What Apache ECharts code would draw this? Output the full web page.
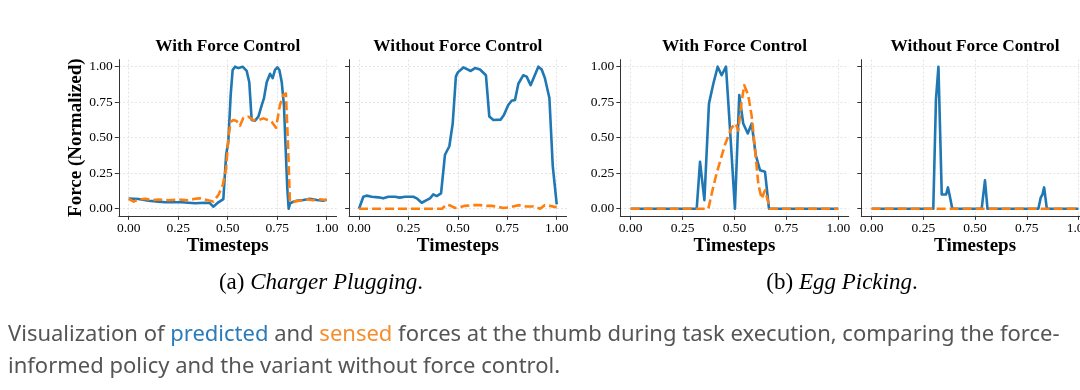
<!DOCTYPE html>
<html><head><meta charset="utf-8">
<script src="https://cdn.jsdelivr.net/npm/echarts@6/dist/echarts.min.js"></script>
<style>html,body{margin:0;padding:0;background:#fff}#c{width:1080px;height:390px}</style>
</head><body><div id="c"></div>
<script>
// ---- data (t = normalized timestep, v = normalized force) ----
var panelTitles = ['With Force Control', 'Without Force Control', 'With Force Control', 'Without Force Control'];
var tickValues = [0, 0.25, 0.5, 0.75, 1];
var subCaptions = ['Charger Plugging', 'Egg Picking'];

var chargerWithPred = [[0,0.072],[0.05,0.068],[0.1,0.056],[0.15,0.05],[0.183,0.045],[0.267,0.045],[0.3,0.042],[0.335,0.038],[0.385,0.042],[0.41,0.04],[0.427,0.014],[0.436,0.015],[0.453,0.045],[0.478,0.068],[0.492,0.378],[0.503,0.47],[0.515,0.8],[0.525,0.977],[0.537,1.0],[0.554,0.99],[0.562,0.977],[0.575,1.0],[0.596,0.97],[0.609,0.89],[0.621,0.625],[0.638,0.62],[0.655,0.648],[0.672,0.73],[0.683,0.777],[0.697,0.89],[0.714,0.95],[0.727,0.92],[0.739,0.977],[0.751,0.995],[0.761,0.977],[0.773,0.89],[0.784,0.73],[0.794,0.378],[0.801,0.143],[0.808,0.0],[0.815,0.038],[0.832,0.049],[0.848,0.056],[0.882,0.061],[0.915,0.07],[0.95,0.061],[0.983,0.056],[1.0,0.066]];
var chargerWithSensed = [[0,0.07],[0.025,0.05],[0.05,0.065],[0.084,0.07],[0.118,0.06],[0.15,0.065],[0.2,0.06],[0.25,0.065],[0.3,0.06],[0.335,0.07],[0.36,0.073],[0.394,0.061],[0.427,0.05],[0.453,0.096],[0.475,0.166],[0.492,0.284],[0.503,0.495],[0.515,0.612],[0.528,0.624],[0.545,0.617],[0.562,0.584],[0.579,0.64],[0.604,0.648],[0.629,0.624],[0.655,0.624],[0.68,0.636],[0.705,0.624],[0.722,0.612],[0.744,0.57],[0.764,0.73],[0.781,0.8],[0.794,0.812],[0.806,0.4],[0.814,0.05],[0.832,0.05],[0.865,0.056],[0.9,0.066],[0.93,0.06],[0.966,0.066],[1.0,0.06]];
var chargerWithoutPred = [[0,0.0],[0.022,0.084],[0.039,0.092],[0.064,0.084],[0.098,0.08],[0.123,0.073],[0.148,0.084],[0.182,0.084],[0.207,0.078],[0.233,0.084],[0.275,0.084],[0.292,0.073],[0.317,0.042],[0.342,0.061],[0.359,0.073],[0.376,0.101],[0.393,0.089],[0.415,0.108],[0.435,0.38],[0.457,0.44],[0.474,0.6],[0.49,0.93],[0.5,0.96],[0.528,0.995],[0.565,0.97],[0.587,0.99],[0.612,0.98],[0.642,0.94],[0.659,0.65],[0.68,0.625],[0.716,0.627],[0.733,0.66],[0.755,0.73],[0.772,0.76],[0.789,0.765],[0.806,0.88],[0.831,0.94],[0.848,0.93],[0.868,0.87],[0.907,1.0],[0.924,0.98],[0.94,0.92],[0.963,0.78],[0.98,0.3],[1.0,0.03]];
var chargerWithoutSensed = [[0,0.0],[0.1,0.0],[0.2,0.0],[0.3,0.0],[0.42,0.0],[0.443,0.03],[0.465,0.02],[0.486,0.005],[0.51,0.01],[0.536,0.02],[0.578,0.025],[0.612,0.025],[0.646,0.02],[0.67,0.02],[0.696,0.015],[0.73,0.005],[0.764,0.01],[0.806,0.025],[0.848,0.015],[0.882,0.015],[0.916,0.0],[0.94,0.025],[0.965,0.02],[1.0,0.01]];

var eggWithPred = [[0,0],[0.318,0],[0.334,0.33],[0.355,0.06],[0.377,0.74],[0.398,0.88],[0.419,1.0],[0.438,0.94],[0.459,1.0],[0.481,0.5],[0.502,0.0],[0.523,0.8],[0.542,0.6],[0.564,0.53],[0.583,0.6],[0.602,0.38],[0.623,0.27],[0.647,0.26],[0.666,0.0],[1.0,0]];
var eggWithSensed = [[0,0],[0.35,0],[0.374,0.0],[0.394,0.13],[0.414,0.25],[0.434,0.35],[0.454,0.45],[0.486,0.57],[0.506,0.6],[0.518,0.55],[0.534,0.75],[0.547,0.87],[0.566,0.8],[0.583,0.65],[0.6,0.4],[0.615,0.17],[0.631,0.07],[0.647,0.13],[0.671,0.0],[1.0,0]];
var eggWithoutPred = [[0,0],[0.298,0],[0.311,0.77],[0.323,1.0],[0.339,0.1],[0.36,0.1],[0.369,0.15],[0.379,0.08],[0.39,0.0],[0.532,0.0],[0.548,0.2],[0.56,0.0],[0.806,0.0],[0.818,0.08],[0.826,0.1],[0.834,0.15],[0.847,0.0],[1.0,0]];
var eggWithoutSensed = [[0,0],[0.25,0],[0.5,0],[0.75,0],[1.0,0]];

// ---- layout ----
var grids = [
  {left: 118.8, top: 59.6, width: 217.8, height: 156.2},
  {left: 349.1, top: 59.6, width: 217.5, height: 156.2},
  {left: 620.3, top: 59.6, width: 228.4, height: 156.2},
  {left: 861.3, top: 59.6, width: 227.5, height: 156.2}
];
var serif = '"Liberation Serif", "Times New Roman", serif';
var sans = '"Noto Sans", "Open Sans", sans-serif';
var axisColor = '#333';
var gridColor = '#dcdcdc';

var xAxes = [], yAxes = [], series = [], graphics = [];
var panelData = [[chargerWithPred, chargerWithSensed],[chargerWithoutPred, chargerWithoutSensed],[eggWithPred, eggWithSensed],[eggWithoutPred, eggWithoutSensed]];

grids.forEach(function (g, i) {
  g.outerBoundsMode = 'none';
  g.containLabel = false;
  xAxes.push({
    type: 'value', gridIndex: i, min: -0.05, max: 1.05,
    name: 'Timesteps', nameLocation: 'middle', nameGap: 19,
    nameTextStyle: {fontFamily: serif, fontWeight: 'bold', fontSize: 19, color: '#000'},
    axisLine: {show: true, onZero: false, lineStyle: {color: axisColor, width: 1}},
    axisTick: {show: true, length: 4, customValues: tickValues, lineStyle: {color: axisColor}},
    axisLabel: {customValues: tickValues, margin: 6, fontFamily: serif, fontSize: 13.5, color: '#000',
      formatter: function (v) { return (+v).toFixed(2); }},
    splitLine: {show: true, lineStyle: {color: gridColor, width: 0.8, type: [2, 2]}}
  });
  yAxes.push({
    type: 'value', gridIndex: i, min: -0.05, max: 1.05,
    name: i === 0 ? 'Force (Normalized)' : '', nameLocation: 'middle', nameGap: 33, nameRotate: 90,
    nameTextStyle: {fontFamily: serif, fontWeight: 'bold', fontSize: 19, color: '#000'},
    axisLine: {show: true, onZero: false, lineStyle: {color: axisColor, width: 1}},
    axisTick: {show: true, length: 4, customValues: tickValues, lineStyle: {color: axisColor}},
    axisLabel: {show: i === 0 || i === 2, customValues: tickValues, margin: 6, fontFamily: serif, fontSize: 13.5, color: '#000',
      formatter: function (v) { return (+v).toFixed(2); }},
    splitLine: {show: true, lineStyle: {color: gridColor, width: 0.8, type: [2, 2]}}
  });
  series.push({
    type: 'line', xAxisIndex: i, yAxisIndex: i, data: panelData[i][0], showSymbol: false, symbol: 'none',
    lineStyle: {color: '#1f77b4', width: 2.6, join: 'round'}, z: 2, animation: false
  });
  series.push({
    type: 'line', xAxisIndex: i, yAxisIndex: i, data: panelData[i][1], showSymbol: false, symbol: 'none',
    lineStyle: {color: '#ff7f0e', width: 2.6, type: [9, 4], join: 'round'}, z: 3, animation: false
  });
  graphics.push({
    type: 'text', x: g.left + g.width / 2, y: 47,
    style: {text: panelTitles[i], fontFamily: serif, fontWeight: 'bold', fontSize: 17.3, fill: '#000',
      textAlign: 'center', textVerticalAlign: 'middle'}
  });
});

var subRich = {r: {fontFamily: serif, fontSize: 23, fill: '#000'}, i: {fontFamily: serif, fontSize: 23, fontStyle: 'italic', fill: '#000'}};
graphics.push({
  type: 'text', x: 321, y: 283,
  style: {text: '{r|(a) }{i|' + subCaptions[0] + '}{r|.}', textAlign: 'center', textVerticalAlign: 'middle', rich: subRich}
});
graphics.push({
  type: 'text', x: 842, y: 283,
  style: {text: '{r|(b) }{i|' + subCaptions[1] + '}{r|.}', textAlign: 'center', textVerticalAlign: 'middle', rich: subRich}
});
var capRich = {t: {fontFamily: sans, fontSize: 22, fill: '#555'}, p: {fontFamily: sans, fontSize: 22, fill: '#2b7bba'}, s: {fontFamily: sans, fontSize: 22, fill: '#f58d2e'}};
graphics.push({
  type: 'text', x: 8, y: 335,
  style: {text: '{t|Visualization of }{p|predicted}{t| and }{s|sensed}{t| forces at the thumb during task execution, comparing the force-}',
    textAlign: 'left', textVerticalAlign: 'middle', rich: capRich}
});
graphics.push({
  type: 'text', x: 8, y: 367,
  style: {text: '{t|informed policy and the variant without force control.}', textAlign: 'left', textVerticalAlign: 'middle', rich: capRich}
});

var chart = echarts.init(document.getElementById('c'), null, {renderer: 'canvas'});
chart.setOption({
  backgroundColor: '#fff',
  animation: false,
  grid: grids,
  xAxis: xAxes,
  yAxis: yAxes,
  series: series,
  graphic: graphics
});
</script></body></html>
